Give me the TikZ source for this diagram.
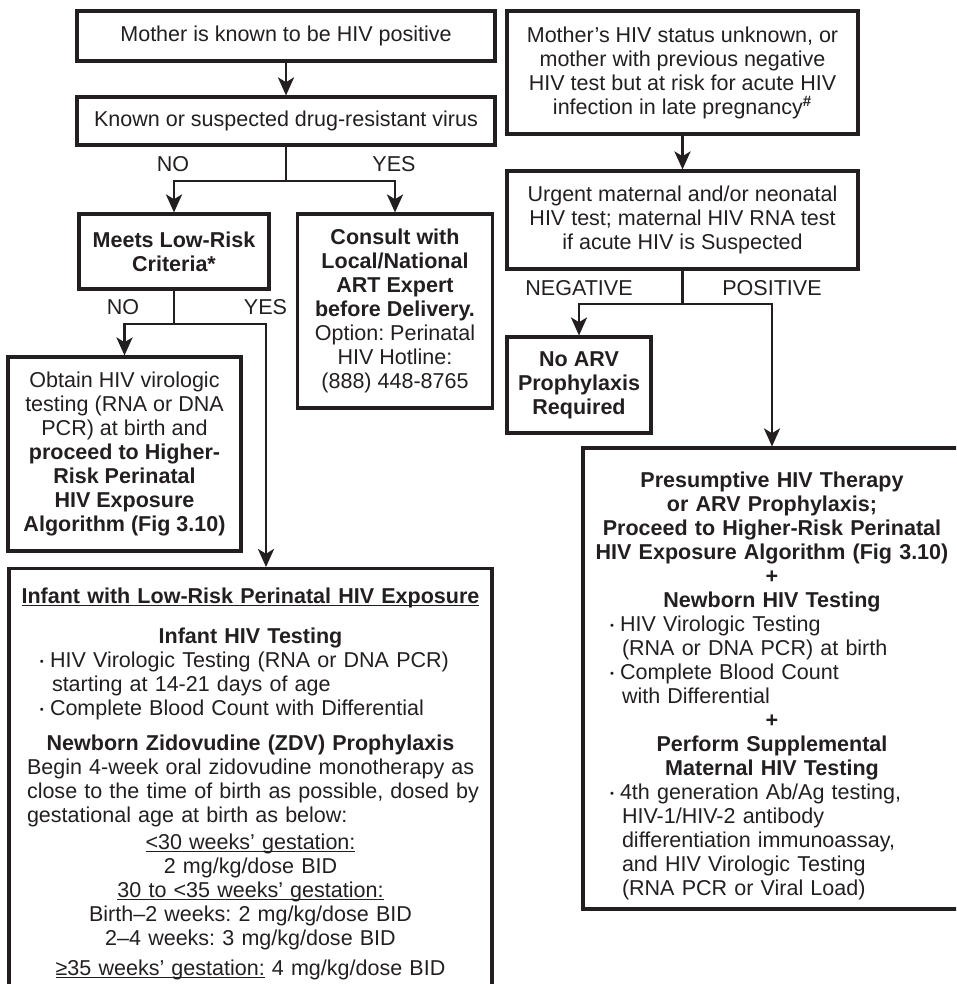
\documentclass[tikz,border=0pt]{standalone}
\usepackage{fontspec}
\setmainfont{Liberation Sans}
\usetikzlibrary{arrows.meta,positioning}
\definecolor{ink}{RGB}{35,31,32}
\newlength\pxl
\setlength\pxl{0.025cm}
\setlength\parindent{0pt}
\frenchspacing
\newcommand{\boxfont}{\fontsize{15.3pt}{17.07pt}\selectfont}
% bullet line with hanging indent, #1 = indent of the bullet
\newcommand{\bitem}[2][13\pxl]{\par{\raggedright\let\\\newline
  \hangindent=\dimexpr#1+12\pxl\relax\hangafter=1
  \leavevmode\hspace*{#1}\makebox[10\pxl][l]{\raisebox{1.4pt}{\fontsize{8pt}{8pt}\selectfont\textbullet}}#2\par}}
% underline close to the baseline
\newcommand{\gul}[1]{\leavevmode\setbox0\hbox{#1}\rlap{\rule[-2pt]{\wd0}{0.8pt}}\box0\relax}
\tikzset{
  box/.style={rectangle, draw=ink, line width=2.2pt, align=center,
              inner sep=0pt, font=\boxfont, text=ink},
  arrow/.style={-{Stealth[length=12.8pt, width=11.4pt, inset=3.4pt]},
                draw=ink, line width=2pt},
  link/.style={draw=ink, line width=2pt},
  lbl/.style={font=\boxfont, text=ink, inner sep=0pt}
}
\begin{document}
\begin{tikzpicture}[x=0.025cm, y=-0.025cm]
  \useasboundingbox (0,0) rectangle (956,984);
  \clip (0,0) rectangle (956,984);
  % known positive mother
  \node[box, minimum width=418*\pxl, minimum height=50*\pxl] (mkpos) at (286,36) {Mother is known to be HIV positive};
  \node[box, minimum width=418*\pxl, minimum height=48*\pxl] (resist) at (286,121) {Known or suspected drug-resistant virus};
  \node[box, minimum width=190*\pxl, minimum height=75*\pxl] (lowrisk) at (174,251.5) {\textbf{Meets Low-Risk}\\\textbf{Criteria*}};
  \node[box, minimum width=195*\pxl, minimum height=194*\pxl] (consult) at (395,311) {\textbf{Consult with}\\\textbf{Local/National}\\\textbf{ART Expert}\\\textbf{before Delivery.}\\Option: Perinatal\\HIV Hotline:\\(888) 448-8765};
  \node[box, minimum width=233*\pxl, minimum height=194*\pxl] (obtain) at (124.5,454) {Obtain HIV virologic\\testing (RNA or DNA\\PCR) at birth and\\\textbf{proceed to Higher-}\\\textbf{Risk Perinatal}\\\textbf{HIV Exposure}\\\textbf{Algorithm (Fig 3.10)}};
  \node[box, anchor=north, text width=471*\pxl, inner xsep=6*\pxl, inner ysep=19*\pxl] (infant) at (250.5,567) {%
    \gul{\textbf{Infant with Low-Risk Perinatal HIV Exposure}}\par
    \vspace{16\pxl}
    \textbf{Infant HIV Testing}\par
    \bitem[25\pxl]{HIV Virologic Testing (RNA or DNA PCR)\\starting at 14-21 days of age}
    \bitem[25\pxl]{Complete Blood Count with Differential}
    \vspace{11\pxl}
    \textbf{Newborn Zidovudine (ZDV) Prophylaxis}\par
    {\raggedright\leftskip=12\pxl\let\\\newline Begin 4-week oral zidovudine monotherapy as\\close to the time of birth as possible, dosed by\\gestational age at birth as below:\par}
    \vspace{3\pxl}
    \gul{<30 weeks’ gestation:}\\2 mg/kg/dose BID\\\gul{30 to <35 weeks’ gestation:}\\Birth–2 weeks: 2 mg/kg/dose BID\\2–4 weeks: 3 mg/kg/dose BID\par
    \vspace{6\pxl}
    \gul{≥35 weeks’ gestation:} 4 mg/kg/dose BID\par
    \vspace{40\pxl}};
  % unknown status mother
  \node[box, minimum width=351*\pxl, minimum height=123*\pxl] (unk) at (682.5,72.5) {Mother’s HIV status unknown, or\\mother with previous negative\\HIV test but at risk for acute HIV\\infection in late pregnancy\textsuperscript{\textbf{\#}}};
  \node[box, minimum width=351*\pxl, minimum height=98*\pxl] (urgent) at (682.5,220) {Urgent maternal and/or neonatal\\HIV test; maternal HIV RNA test\\if acute HIV is Suspected};
  \node[box, minimum width=144*\pxl, minimum height=96*\pxl] (noarv) at (579,385) {\textbf{No ARV}\\\textbf{Prophylaxis}\\\textbf{Required}};
  \node[box, minimum width=378*\pxl, minimum height=461*\pxl, text width=370*\pxl, inner xsep=4*\pxl] (presum) at (772,678.5) {%
    \textbf{Presumptive HIV Therapy}\\\textbf{or ARV Prophylaxis;}\\\textbf{Proceed to Higher-Risk Perinatal}\\\textbf{HIV Exposure Algorithm (Fig 3.10)}\\\textbf{+}\\\textbf{Newborn HIV Testing}\par
    \bitem[23\pxl]{HIV Virologic Testing\\(RNA or DNA PCR) at birth}
    \bitem[23\pxl]{Complete Blood Count\\with Differential}
    \textbf{+}\\\textbf{Perform Supplemental}\\\textbf{Maternal HIV Testing}\par
    \bitem[23\pxl]{4th generation Ab/Ag testing,\\HIV-1/HIV-2 antibody\\differentiation immunoassay,\\and HIV Virologic Testing\\(RNA PCR or Viral Load)}
    \vspace{-14\pxl}};
  % branch labels
  \node[lbl] (rsno) at (173,164.5) {NO};
  \node[lbl] (rsyes) at (394,164.5) {YES};
  \node[lbl] (lrno) at (123,307) {NO};
  \node[lbl] (lryes) at (265.5,307) {YES};
  \node[lbl] (ugneg) at (579,288.5) {NEGATIVE};
  \node[lbl] (ugpos) at (772,288.5) {POSITIVE};
  % connectors
  \coordinate (rsfork) at (286,181);
  \coordinate (lrfork) at (174,324);
  \coordinate (lrturn) at (266,324);
  \coordinate (ugfork) at (682.5,304);
  \draw[arrow] (mkpos) -- (resist);
  \draw[link] (resist) -- (rsfork);
  \draw[arrow] (rsfork) -| (lowrisk);
  \draw[arrow] (rsfork) -| (consult);
  \draw[link] (lowrisk) -- (lrfork);
  \draw[arrow] (lrfork) -| (obtain);
  \draw[arrow] (lrfork) -- (lrturn) -- (lrturn |- infant.north);
  \draw[arrow] (unk) -- (urgent);
  \draw[link] (urgent) -- (ugfork);
  \draw[arrow] (ugfork) -| (noarv);
  \draw[arrow] (ugfork) -| (presum);
\end{tikzpicture}
\end{document}
